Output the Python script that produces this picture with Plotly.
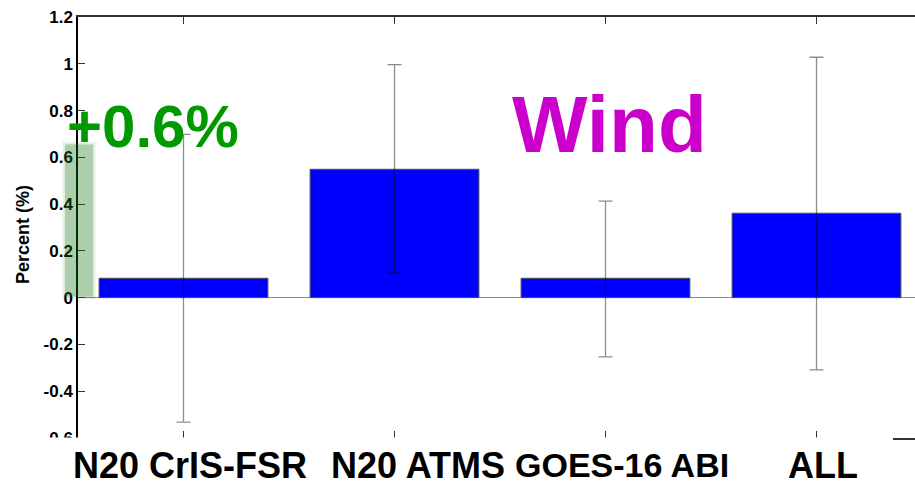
import plotly.graph_objects as go

# Percent change per observing system (Wind)
categories = ["N20 CrIS-FSR", "N20 ATMS", "GOES-16 ABI", "ALL"]
percent_change = [0.083, 0.549, 0.083, 0.361]
err_plus = [0.615, 0.447, 0.330, 0.667]
err_minus = [0.615, 0.443, 0.336, 0.670]

y_tick_vals = [-0.6, -0.4, -0.2, 0, 0.2, 0.4, 0.6, 0.8, 1, 1.2]
y_tick_text = ["-0.6", "-0.4", "-0.2", "0", "0.2", "0.4", "0.6", "0.8", "1", "1.2"]

# Highlighted band on the y axis
band_low, band_high = 0.005, 0.655

FONT = "Liberation Sans, Arial, Helvetica, sans-serif"
W, H = 915, 484
L, R, T, B = 78, 0, 17, 46
pw, ph = W - L - R, H - T - B

x_idx = list(range(len(categories)))

fig = go.Figure()
fig.add_trace(go.Bar(
    x=x_idx,
    y=percent_change,
    width=0.8,
    marker=dict(color="#0000ff", line=dict(color="#505050", width=1)),
    error_y=dict(type="data", symmetric=False, array=err_plus, arrayminus=err_minus,
                 color="rgba(0,0,0,0.45)", thickness=1.3, width=7),
    showlegend=False,
    hoverinfo="skip",
))

def px_x(p):
    return (p - L) / pw

def px_y(p):
    return (H - B - p) / ph

shapes = []
# soft green band next to the y axis
for grow, alpha in [(3, 0.06), (1.5, 0.08), (0, 0.26)]:
    shapes.append(dict(
        type="rect", xref="paper", yref="y", layer="above",
        x0=px_x(65 - grow), x1=px_x(93 + grow),
        y0=band_low - grow / 234, y1=band_high + grow / 234,
        fillcolor=f"rgba(20,120,20,{alpha})", line=dict(width=0),
    ))
# white strip that hides the lower axis region
shapes.append(dict(
    type="rect", xref="paper", yref="paper", layer="above",
    x0=px_x(0), x1=px_x(893), y0=px_y(484), y1=px_y(437.5),
    fillcolor="white", line=dict(width=0),
))

annotations = []
label_x = [0.03, 1.11, 2.08, 3.03]
label_size = [36, 36, 34, 36]
for lx, name, fs in zip(label_x, categories, label_size):
    annotations.append(dict(
        x=lx, y=px_y(465), xref="x", yref="paper", text=f"<b>{name}</b>",
        showarrow=False, xanchor="center", yanchor="middle",
        font=dict(family=FONT, size=fs, color="black"),
    ))
annotations.append(dict(
    x=px_x(152.5), y=px_y(127), xref="paper", yref="paper", text="<b>+0.6%</b>",
    showarrow=False, xanchor="center", yanchor="middle",
    font=dict(family=FONT, size=60, color="#009900"),
))
annotations.append(dict(
    x=px_x(609), y=px_y(125), xref="paper", yref="paper", text="<b>Wind</b>",
    showarrow=False, xanchor="center", yanchor="middle",
    font=dict(family=FONT, size=80, color="#cc00cc"),
))
annotations.append(dict(
    x=px_x(23), y=px_y(234), xref="paper", yref="paper", text="<b>Percent (%)</b>",
    showarrow=False, xanchor="center", yanchor="middle", textangle=-90,
    font=dict(family=FONT, size=18, color="black"),
))

fig.update_layout(
    width=W, height=H,
    margin=dict(l=L, r=R, t=T, b=B),
    paper_bgcolor="white", plot_bgcolor="white",
    bargap=0.2,
    shapes=shapes,
    annotations=annotations,
    xaxis=dict(
        range=[-0.5, -0.5 + pw / 211.0],
        tickvals=x_idx, ticktext=[""] * len(x_idx),
        ticks="inside", ticklen=7, tickwidth=1.2, tickcolor="#333",
        showline=True, linecolor="#333", linewidth=1.5, mirror="ticks",
        showgrid=False, zeroline=False, fixedrange=True,
    ),
    yaxis=dict(
        range=[-0.6, 1.2],
        tickvals=y_tick_vals, ticktext=y_tick_text,
        ticks="inside", ticklen=7, tickwidth=1.2, tickcolor="#333",
        tickfont=dict(family="Liberation Sans", size=17, color="black", weight=700),
        showline=True, linecolor="black", linewidth=1.5,
        showgrid=False, zeroline=True, zerolinecolor="#8a8a8a", zerolinewidth=1.2,
        fixedrange=True,
    ),
)

fig.write_html("out.html")
